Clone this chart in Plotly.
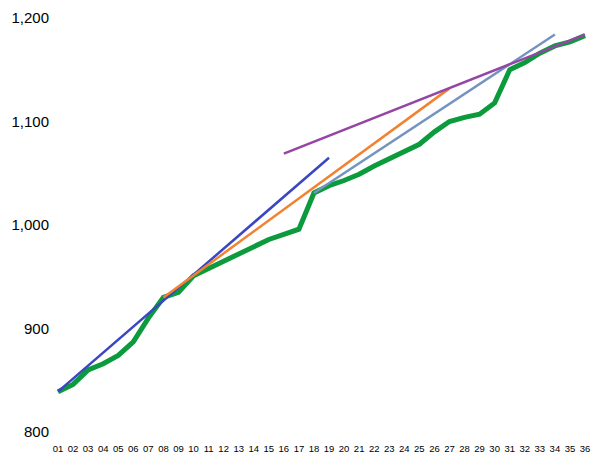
import plotly.graph_objects as go

categories = [f"{i:02d}" for i in range(1, 37)]

green_values = [839, 846, 860, 866, 874, 887, 910, 930, 935, 951, 958, 965,
                972, 979, 986, 991, 996, 1031, 1038, 1043, 1049, 1057, 1064, 1072,
                1078, 1090, 1100, 1104, 1107, 1118, 1150, 1157, 1166, 1173, 1177, 1183]

blue_x = ["01", "19"]
blue_y = [839, 1065]

orange_x = ["08", "27"]
orange_y = [930, 1132]

steel_x = ["18", "34"]
steel_y = [1031, 1184]

purple_x = ["16", "36"]
purple_y = [1069, 1184]

y_ticks = [800, 900, 1000, 1100, 1200]

fig = go.Figure()
fig.add_trace(go.Scatter(x=categories, y=green_values, mode="lines",
                         line=dict(color="#0b9a3c", width=5), hoverinfo="skip"))
fig.add_trace(go.Scatter(x=blue_x, y=blue_y, mode="lines",
                         line=dict(color="#3a46c2", width=2.5)))
fig.add_trace(go.Scatter(x=orange_x, y=orange_y, mode="lines",
                         line=dict(color="#f28232", width=2.5)))
fig.add_trace(go.Scatter(x=steel_x, y=steel_y, mode="lines",
                         line=dict(color="#7393c0", width=2.5)))
fig.add_trace(go.Scatter(x=purple_x, y=purple_y, mode="lines",
                         line=dict(color="#9545a3", width=2.5)))

fig.update_layout(
    width=600, height=463,
    margin=dict(l=55, r=12, t=18, b=31, autoexpand=False),
    paper_bgcolor="white", plot_bgcolor="white",
    showlegend=False,
    font=dict(family="Liberation Sans, Arial, sans-serif", color="#000000"),
    xaxis=dict(type="category", categoryorder="array", categoryarray=categories,
               range=[-0.2, 35.2], showgrid=False, zeroline=False, showline=False,
               tickfont=dict(size=9.5), ticks="", ticklabelstandoff=9, automargin=False),
    yaxis=dict(range=[800, 1200], tickvals=y_ticks, tickformat=",",
               showgrid=False, zeroline=False, showline=False,
               tickfont=dict(size=15), ticks="", ticklabelstandoff=5, automargin=False),
)

fig.write_html("out.html", config={"displayModeBar": False},
               post_script="document.body.style.margin='0';document.body.style.overflow='hidden';")
